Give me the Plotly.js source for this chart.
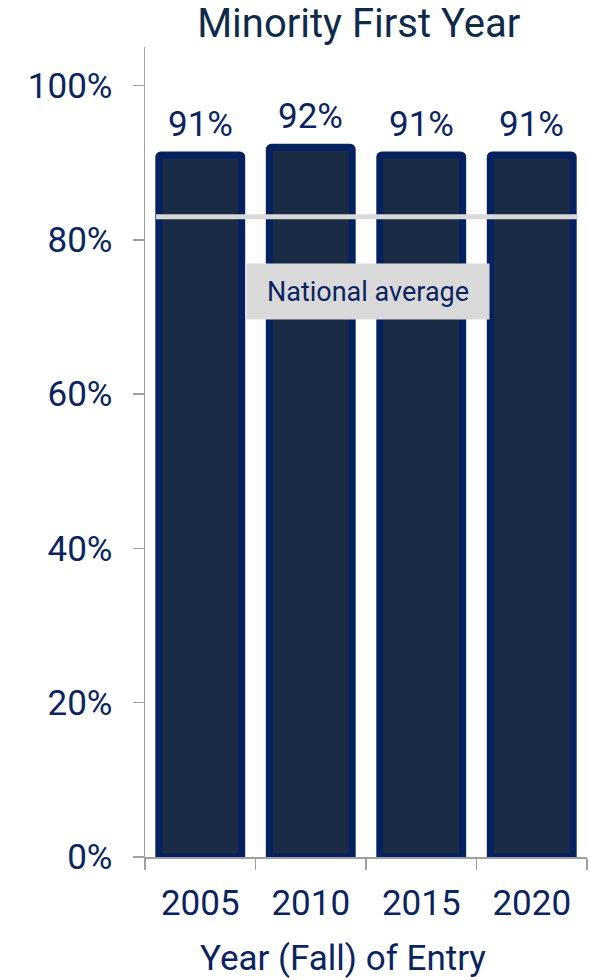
<!DOCTYPE html>
<html>
<head>
<meta charset="utf-8">
<script src="https://cdn.plot.ly/plotly-3.0.1.min.js"></script>
<style>html,body{margin:0;padding:0;background:#fff;}#chart{width:590px;height:980px;}</style>
</head>
<body>
<div id="chart"></div>
<script>
const years = ["2005", "2010", "2015", "2020"];
const rates = [91, 92, 91, 91];
const rateLabels = ["91%", "92%", "91%", "91%"];
const nationalAverage = 83;
const nationalLabel = "National average";
const xAxisTitle = "Year (Fall) of Entry";
const yTickVals = [0, 20, 40, 60, 80, 100];
const yTickText = ["0%", "20%", "40%", "60%", "80%", "100%"];

const FONT = "Roboto, 'Open Sans', sans-serif";
const NAVY = "#0b2461";

const trace = {
  type: "bar",
  x: years,
  y: rates,
  cliponaxis: false,
  marker: {color: "#1a2b45", line: {color: "#06215f", width: 7}, cornerradius: 2},
  hoverinfo: "skip"
};

const valueAnnotations = years.map((yr, i) => ({
  xref: "x", yref: "y", x: i, y: rates[i],
  text: rateLabels[i], showarrow: false,
  xanchor: "center", yanchor: "bottom", yshift: 8,
  font: {family: FONT, size: 35, color: NAVY}
}));

const layout = {
  width: 590, height: 980,
  margin: {l: 145, r: 3, t: 47, b: 123},
  paper_bgcolor: "#fff", plot_bgcolor: "#fff",
  showlegend: false,
  bargap: 0.25,
  font: {family: FONT, color: NAVY},
  title: {
    text: "Minority First Year",
    font: {family: FONT, size: 40, color: "#0f2a4a"},
    xref: "container", x: 0.608, xanchor: "center",
    yref: "container", y: 1 - 23/980, yanchor: "middle"
  },
  xaxis: {
    type: "category",
    range: [-0.5, 3.5],
    showline: true, linecolor: "#a0a0a0", linewidth: 1.5,
    ticks: "outside", tickson: "boundaries", ticklen: 11, tickcolor: "#a0a0a0", tickwidth: 1.5,
    tickfont: {family: FONT, size: 35, color: NAVY},
    tickangle: 0,
    ticklabelstandoff: 14,
    showgrid: false, zeroline: false
  },
  yaxis: {
    range: [0, 105],
    tickvals: yTickVals, ticktext: yTickText,
    showline: true, linecolor: "#a0a0a0", linewidth: 1.5,
    ticks: "outside", ticklen: 11, tickcolor: "#a0a0a0", tickwidth: 1.5,
    tickfont: {family: FONT, size: 35, color: NAVY},
    ticklabelstandoff: 13,
    showgrid: false, zeroline: false
  },
  shapes: [{
    type: "line", xref: "x", yref: "y",
    x0: -0.4, x1: 3.42, y0: nationalAverage, y1: nationalAverage,
    line: {color: "#d9d9d9", width: 5}
  }],
  annotations: valueAnnotations.concat([{
    xref: "x", yref: "y", x: 1.52, y: 73.3,
    text: nationalLabel, showarrow: false,
    bgcolor: "#d9d9d9", width: 240, height: 53,
    font: {family: FONT, size: 27, color: NAVY},
    xanchor: "center", yanchor: "middle"
  }, {
    xref: "paper", yref: "paper", x: 0.447, y: -0.1259,
    text: xAxisTitle, showarrow: false, borderpad: 0,
    font: {family: FONT, size: 35, color: NAVY},
    xanchor: "center", yanchor: "middle"
  }])
};

Plotly.newPlot("chart", [trace], layout, {displayModeBar: false, staticPlot: true});
</script>
</body>
</html>
